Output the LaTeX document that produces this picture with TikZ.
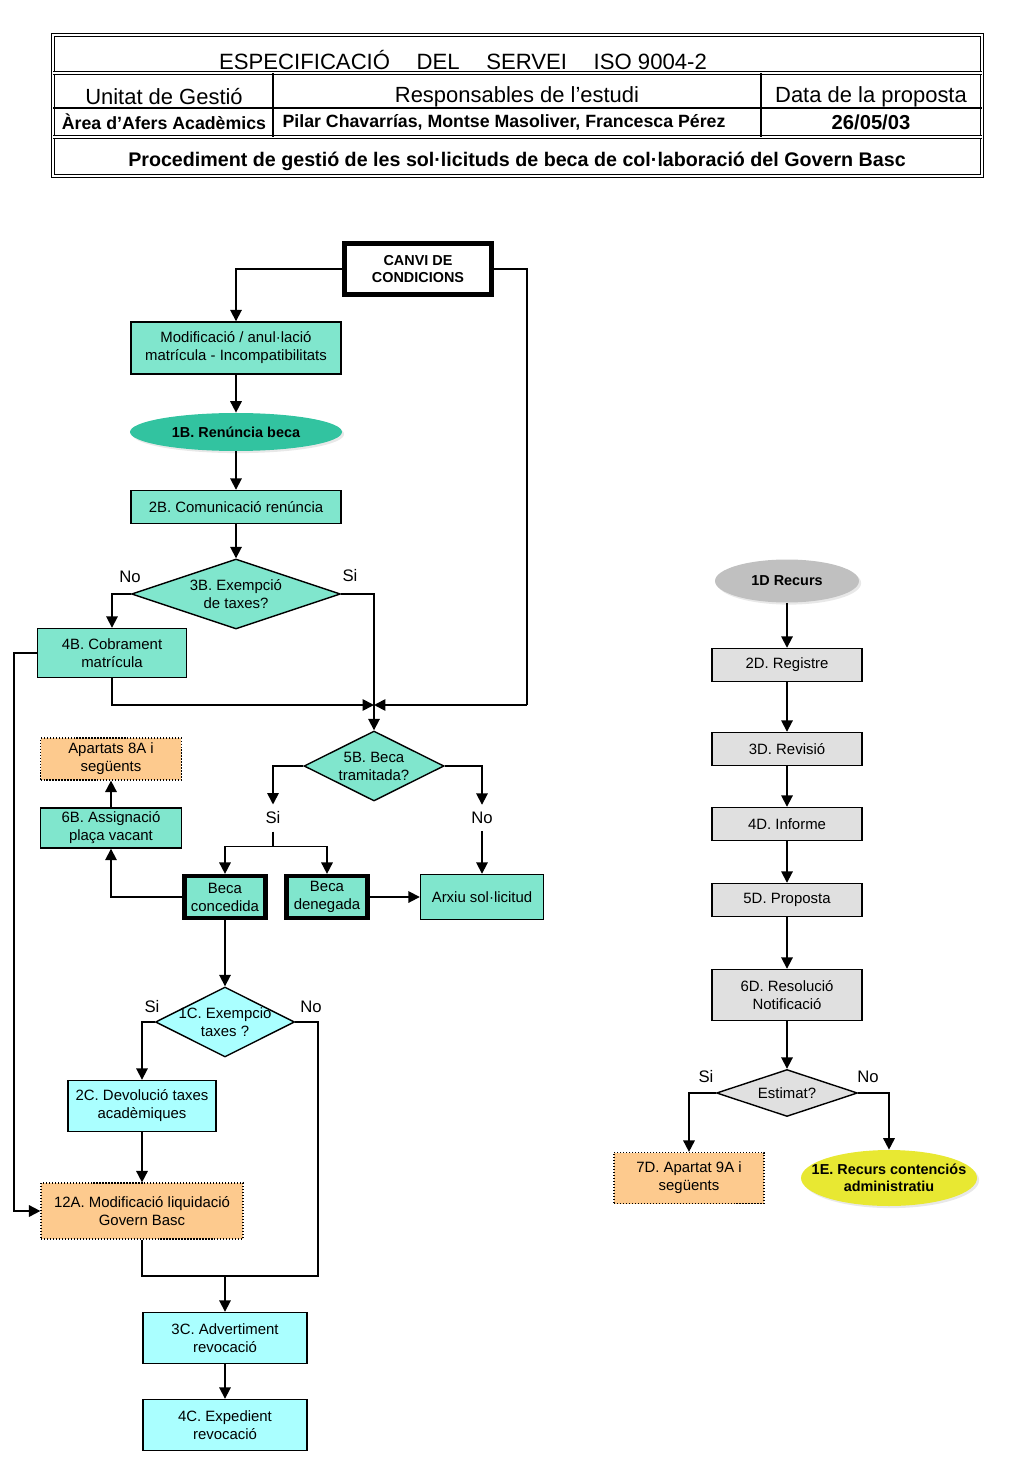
\documentclass[tikz,border=0pt]{standalone}
\usepackage{fontspec}
\setmainfont{Liberation Sans}
\usetikzlibrary{shapes.geometric,arrows.meta,shadows}
\definecolor{tealA}{RGB}{128,230,205}
\definecolor{tealB}{RGB}{50,195,160}
\definecolor{cyanA}{RGB}{170,255,255}
\definecolor{orangeA}{RGB}{253,202,142}
\definecolor{grayA}{RGB}{224,224,224}
\definecolor{grayB}{RGB}{192,192,192}
\definecolor{yellowA}{RGB}{232,232,50}
\begin{document}
\begin{tikzpicture}[x=0.02cm,y=-0.02cm,
  every node/.style={font=\fontsize{8.5}{10.2}\selectfont, align=center, inner sep=1pt},
  box/.style={rectangle, draw, line width=0.8pt},
  thickbox/.style={box, line width=2.4pt},
  refbox/.style={rectangle, draw, densely dotted, line width=0.7pt, fill=orangeA},
  dec/.style={diamond, draw, line width=0.8pt, inner sep=0pt},
  term/.style={ellipse, inner sep=0pt, drop shadow={shadow xshift=1.2pt, shadow yshift=-1.2pt, fill=gray!35}},
  bold/.style={font=\fontsize{8.2}{9.8}\selectfont\bfseries},
  lbl/.style={font=\fontsize{9.5}{11}\selectfont},
  hdr/.style={font=\fontsize{12.5}{14}\selectfont},
  hdrb/.style={font=\fontsize{10.1}{12}\selectfont\bfseries},
  arr/.style={-{Triangle[length=6.5pt,width=6.5pt]}, line width=1pt},
  ln/.style={line width=1pt},
  dbl/.style={double, line width=0.5pt, double distance=0.8pt},
]
\useasboundingbox (0,0) rectangle (1024,1479);

\draw[dbl] (53,35) rectangle (982,176);
\draw[dbl] (53,73) -- (982,73);
\draw[line width=0.6pt] (53,108) -- (982,108);
\draw[dbl] (53,137) -- (982,137);
\draw[line width=0.6pt] (273,73) -- (273,137);
\draw[line width=0.6pt] (761,73) -- (761,137);
\node[hdr, font=\fontsize{12.6}{14}\selectfont] (ttl) at (463,60) {ESPECIFICACIÓ\hspace{1.2em}DEL\hspace{1.2em}SERVEI\hspace{1.2em}ISO 9004-2};
\node[hdr] (unit) at (164,97) {Unitat de Gestió};
\node[hdr] (resp) at (517,97) {Responsables de l’estudi};
\node[hdr] (data) at (871,97) {Data de la proposta};
\node[hdrb] (area) at (164,122) {Àrea d’Afers Acadèmics};
\node[hdrb] (noms) at (504,122) {Pilar Chavarrías, Montse Masoliver, Francesca Pérez};
\node[hdrb, font=\fontsize{11.5}{13}\selectfont\bfseries] (dia) at (871,122) {26/05/03};
\node[hdrb, font=\fontsize{11.2}{13}\selectfont\bfseries] (proc) at (517,161) {Procediment de gestió de les sol·licituds de beca de col·laboració del Govern Basc};

\node[thickbox, bold, fill=white, minimum width=2.94cm, minimum height=1.02cm, drop shadow={shadow xshift=1.5pt, shadow yshift=-1.5pt, fill=gray!60}] (canvi) at (418,269) {CANVI DE\\CONDICIONS};
\node[box, fill=tealA, minimum width=4.2cm, minimum height=1.04cm] (modif) at (236,348) {Modificació / anul·lació\\matrícula - Incompatibilitats};
\node[term, fill=tealB, minimum width=4.24cm, minimum height=0.76cm, label={[bold]center:1B. Renúncia beca}] (b1) at (236,432) {};
\node[box, fill=tealA, minimum width=4.2cm, minimum height=0.66cm] (b2) at (236,507) {2B. Comunicació renúncia};
\node[dec, fill=tealA, minimum width=4.18cm, minimum height=1.4cm, label={center:{3B. Exempció\\de taxes?}}] (b3) at (236,594) {};
\node[lbl] (no3) at (130,577) {No};
\node[lbl] (si3) at (350,576) {Si};
\node[box, fill=tealA, minimum width=2.98cm, minimum height=0.98cm] (b4) at (112,653) {4B. Cobrament\\matrícula};
\coordinate (jn) at (374,705);
\coordinate (rgt) at (527,705);
\node[dec, fill=tealA, minimum width=2.8cm, minimum height=1.4cm, label={center:{5B. Beca\\tramitada?}}] (b5) at (374,766) {};
\node[lbl, inner sep=4pt] (si5) at (273,818) {Si};
\node[lbl, inner sep=4pt] (no5) at (482,818) {No};
\node[refbox, minimum width=2.82cm, minimum height=0.84cm] (apart) at (111,759) {Apartats 8A i\\següents};
\node[box, fill=tealA, minimum width=2.82cm, minimum height=0.8cm] (b6) at (111,828) {6B. Assignació\\plaça vacant};
\node[thickbox, fill=tealA, minimum width=1.62cm, minimum height=0.84cm] (conc) at (225,897) {Beca\\concedida};
\node[thickbox, fill=tealA, minimum width=1.62cm, minimum height=0.84cm] (dene) at (327,897) {Beca\\denegada};
\node[box, fill=tealA, minimum width=2.46cm, minimum height=0.9cm] (arxiu) at (482,897) {Arxiu sol·licitud};
\node[dec, fill=cyanA, minimum width=2.78cm, minimum height=1.4cm, label={center:{1C. Exempcio\\taxes ?}}] (c1) at (225,1022) {};
\node[lbl] (si1c) at (152,1007) {Si};
\node[lbl] (no1c) at (311,1007) {No};
\node[box, fill=cyanA, minimum width=2.96cm, minimum height=1.02cm] (c2) at (142,1106) {2C. Devolució taxes\\acadèmiques};
\node[refbox, minimum width=4.04cm, minimum height=1.12cm] (a12) at (142,1211) {12A. Modificació liquidació\\Govern Basc};
\coordinate (mrg) at (225,1276);
\node[box, fill=cyanA, minimum width=3.28cm, minimum height=1.02cm] (c3) at (225,1338) {3C. Advertiment\\revocació};
\node[box, fill=cyanA, minimum width=3.28cm, minimum height=1.02cm] (c4) at (225,1425) {4C. Expedient\\revocació};

\node[term, fill=grayB, minimum width=2.88cm, minimum height=0.86cm, label={[bold]center:1D Recurs}] (d1) at (787,581) {};
\node[box, fill=grayA, minimum width=3cm, minimum height=0.66cm] (d2) at (787,665) {2D. Registre};
\node[box, fill=grayA, minimum width=3cm, minimum height=0.66cm] (d3) at (787,749) {3D. Revisió};
\node[box, fill=grayA, minimum width=3cm, minimum height=0.66cm] (d4) at (787,824) {4D. Informe};
\node[box, fill=grayA, minimum width=3cm, minimum height=0.66cm] (d5) at (787,900) {5D. Proposta};
\node[box, fill=grayA, minimum width=3cm, minimum height=1.02cm] (d6) at (787,995) {6D. Resolució\\Notificació};
\node[dec, fill=grayA, minimum width=2.82cm, minimum height=0.94cm, label={center:Estimat?}] (est) at (787,1093) {};
\node[lbl] (siest) at (706,1077) {Si};
\node[lbl] (noest) at (868,1077) {No};
\node[refbox, minimum width=3cm, minimum height=1.02cm] (d7) at (689,1178) {7D. Apartat 9A i\\següents};
\node[term, fill=yellowA, minimum width=3.52cm, minimum height=1.12cm, label={[bold]center:{1E. Recurs contenciós\\administratiu}}] (e1) at (889,1178) {};

\draw[arr] (canvi.west) -| (modif.north);
\draw[ln] (canvi.east) -| (rgt);
\draw[arr] (rgt) -- (jn);
\draw[arr] (modif) -- (b1);
\draw[arr] (b1) -- (b2);
\draw[arr] (b2) -- (b3);
\draw[arr] (b3.west) -| (b4.north);
\draw[arr] (b3.east) -| (b5.north);
\draw[arr] (b4.south) |- (jn);
\draw[arr] (b4.west) -- ++(-23,0) |- (a12.west);
\draw[arr] (b5.west) -| (si5.north);
\draw[arr] (b5.east) -| (no5.north);
\draw[ln] (si5.south) -- ++(0,15) coordinate (spl);
\draw[arr] (spl) -| (conc.north);
\draw[arr] (spl) -| (dene.north);
\draw[arr] (no5.south) -- (arxiu.north);
\draw[arr] (dene) -- (arxiu);
\draw[arr] (conc.west) -| (b6.south);
\draw[arr] (b6) -- (apart);
\draw[arr] (conc) -- (c1);
\draw[arr] (c1.west) -| (c2.north);
\draw[arr] (c2) -- (a12);
\draw[ln] (a12.south) |- (mrg);
\draw[ln] (c1.east) -- ++(23,0) |- (mrg);
\draw[arr] (mrg) -- (c3.north);
\draw[arr] (c3) -- (c4);

\draw[arr] (d1) -- (d2);
\draw[arr] (d2) -- (d3);
\draw[arr] (d3) -- (d4);
\draw[arr] (d4) -- (d5);
\draw[arr] (d5) -- (d6);
\draw[arr] (d6) -- (est);
\draw[arr] (est.west) -| (d7.north);
\draw[arr] (est.east) -| (e1.north);
\end{tikzpicture}
\end{document}
